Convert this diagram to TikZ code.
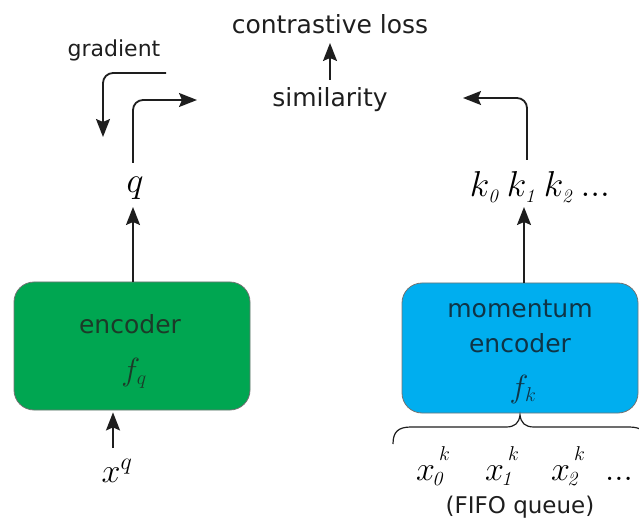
\RequirePackage{fix-cm}
\documentclass[tikz,border=0pt]{standalone}
\usepackage[no-math]{fontspec}
\setmainfont{DejaVu Sans}
\usetikzlibrary{arrows.meta,calc}

% math sizes for the large symbols: text / script / scriptscript
\DeclareMathSizes{36}{36}{19}{14}
\DeclareMathSizes{34}{34}{24}{20}
\DeclareMathSizes{32}{32}{20}{14}

% italic digits for the indices
\newcommand\iZero{\mathit{0}}
\newcommand\iOne{\mathit{1}}
\newcommand\iTwo{\mathit{2}}
% queue element: index below, k raised high
\newcommand\qel[1]{{x_{\mkern-2mu\scriptscriptstyle #1}}^{\mkern-5mu\raisebox{7pt}{$\scriptscriptstyle k$}}}

\definecolor{encgreen}{HTML}{00A651}
\definecolor{momblue}{HTML}{00AEEF}
\definecolor{encink}{HTML}{1C3A28}
\definecolor{momink}{HTML}{0F3446}
\definecolor{ink}{HTML}{1E1E1E}

\begin{document}
\begin{tikzpicture}[x=1pt,y=-1pt,
  lbl/.style={font=\fontsize{25}{30}\selectfont, inner sep=0pt, anchor=base},
  small/.style={font=\fontsize{22}{26}\selectfont, inner sep=0pt, anchor=base},
  mthbig/.style={font=\fontsize{36}{42}\selectfont, inner sep=0pt, anchor=base},
  mth/.style={font=\fontsize{34}{40}\selectfont, inner sep=0pt, anchor=base},
  fnc/.style={font=\fontsize{32}{38}\selectfont, inner sep=0pt, anchor=base},
  arr/.style={draw=ink, line width=1.8pt, -{Stealth[length=18pt,width=14pt,inset=3pt]}},
  encbox/.style={draw=black!55, line width=0.8pt, rounded corners=20pt,
    minimum width=236pt, minimum height=128pt, inner sep=0pt},
]
\useasboundingbox (0,0) rectangle (639,518);

% top labels
\node[lbl, text=ink] (loss) at (330,34) {contrastive loss};
\node[lbl, text=ink] (sim) at (330,107) {similarity};
\node[small, text=ink] (grad) at (114,57) {gradient};

% query / key outputs
\node[mthbig] (q) at (135,193) {$q$};
\node[mthbig] (keys) at (540,197) {$k_{\iZero}\,k_{\iOne}\,k_{\iTwo}\,...$};

% encoders
\node[encbox, fill=encgreen] (enc) at (132,346) {};
\node[lbl, text=encink] (enctxt) at (130,333) {encoder};
\node[fnc, text=encink] (fq) at (134,380) {$f_q$};

\node[encbox, fill=momblue, minimum height=130pt] (mom) at (520,348) {};
\node[lbl, text=momink] (momtxt) at (520,317) {momentum};
\node[lbl, text=momink] (momtxt2) at (520,352) {encoder};
\node[fnc, text=momink] (fk) at (523,397) {$f_k$};

% inputs
\node[mth] (xq) at (117,482) {$x^q$};
\node[mth, anchor=base west] (x0) at (416,480) {$\qel{\iZero}$};
\node[mth, anchor=base west] (x1) at (485,480) {$\qel{\iOne}$};
\node[mth, anchor=base west] (x2) at (551,480) {$\qel{\iTwo}$};
\node[mth, anchor=base west] (xdots) at (605,480) {$...$};
\node[font=\fontsize{23}{28}\selectfont, inner sep=0pt, anchor=base, text=ink] (fifo) at (520,513) {(FIFO queue)};

% free ends of the bent arrows
\coordinate (qtip) at (197,100);
\coordinate (ktip) at (463,98);
\coordinate (gfrom) at (166,73);
\coordinate (gto) at (103,137);

% connectors
\draw[arr] ($(sim.base)+(0,-27)$) -- ($(loss.base)+(0,9)$);
\draw[arr, rounded corners=10pt] (gfrom) -| (gto);
\draw[arr, rounded corners=10pt] ($(enc.north |- q.base)+(1,-30)$) |- (qtip);
\draw[arr, rounded corners=10pt] ($(keys.base)+(-13,-37)$) |- (ktip);
\draw[arr] ($(enc.north)+(1,0)$) -- ($(enc.north |- q.base)+(1,14)$);
\draw[arr] ($(mom.north)+(4,0)$) -- ($(mom.north |- keys.base)+(4,10)$);
\draw[arr] ($(xq.base)+(-4,-34)$) -- ($(enc.south -| xq.base)+(-4,2)$);

% brace over the queue
\draw[ink, line width=1.2pt]
  (393,444) .. controls (393,432) and (398,427) .. (411,427)
  -- (506,427) .. controls (515,427) and (519,423) .. (520,415)
  .. controls (521,423) and (525,427) .. (534,427)
  -- (629,427) .. controls (642,427) and (647,432) .. (647,444);
\end{tikzpicture}
\end{document}
